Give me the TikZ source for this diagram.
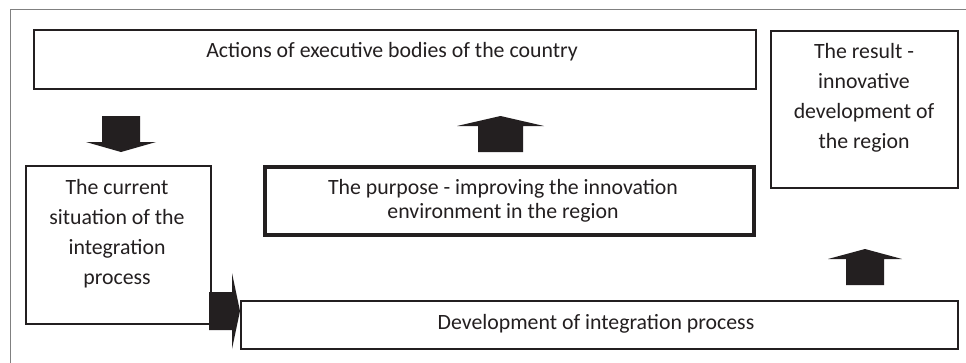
\documentclass[tikz,border=0pt]{standalone}
\usepackage{fontspec}
\setmainfont{Carlito}
\definecolor{ink}{HTML}{231F20}
\definecolor{frame}{HTML}{808080}
\begin{document}
\begin{tikzpicture}[x=1pt,y=-1pt,
  box/.style={draw=ink, line width=1.5pt, fill=white, inner sep=0pt, anchor=north west},
  thickbox/.style={box, line width=3.5pt},
  txt/.style={text=ink, font=\fontsize{21.8}{30}\selectfont, align=center, inner sep=0pt},
  blockarrow/.style={fill=ink, draw=none}
]
\useasboundingbox (0,0) rectangle (966,362);
\fill[white] (0,0) rectangle (966,362);
% outer frame: only its left and top sides fall inside the page
\draw[frame, line width=1pt] (10,370) -- (10,9) -- (975,9);

% boxes
\node[box, minimum width=722pt, minimum height=59pt] (act) at (33,29) {};
\node[box, minimum width=187pt, minimum height=157pt] (res) at (770,30) {};
\node[box, minimum width=185pt, minimum height=158pt] (cur) at (25,165) {};
\node[thickbox, minimum width=489pt, minimum height=68pt] (pur) at (263,165) {};
\node[box, minimum width=717pt, minimum height=48pt] (dev) at (240,300) {};

% texts
\node[txt] (tact) at (392,52) {Actions of executive bodies of the country};
\node[txt] (tres) at (864,97.5) {The result -\\innovative\\development of\\the region};
\node[txt] (tcur) at (117,234) {The current\\situation of the\\integration\\process};
\node[txt, font=\fontsize{21.8}{24}\selectfont] (tpur) at (503,201) {The purpose - improving the innovation\\environment in the region};
\node[txt] (tdev) at (596,324) {Development of integration process};

% block arrows
\fill[blockarrow] (102,116) -- (140,116) -- (140,142) -- (156,142) -- (121,152)
  -- (86,142) -- (102,142) -- cycle;
\fill[blockarrow] (478,152) -- (523,152) -- (523,126) -- (544,126) -- (500.5,116)
  -- (457,126) -- (478,126) -- cycle;
\fill[blockarrow] (846,285) -- (884,285) -- (884,259) -- (902,259) -- (865,249)
  -- (828,259) -- (846,259) -- cycle;
\fill[blockarrow] (209,292) -- (232,292) -- (232,273) -- (240,311) -- (232,349)
  -- (232,330) -- (209,330) -- cycle;
\end{tikzpicture}
\end{document}
